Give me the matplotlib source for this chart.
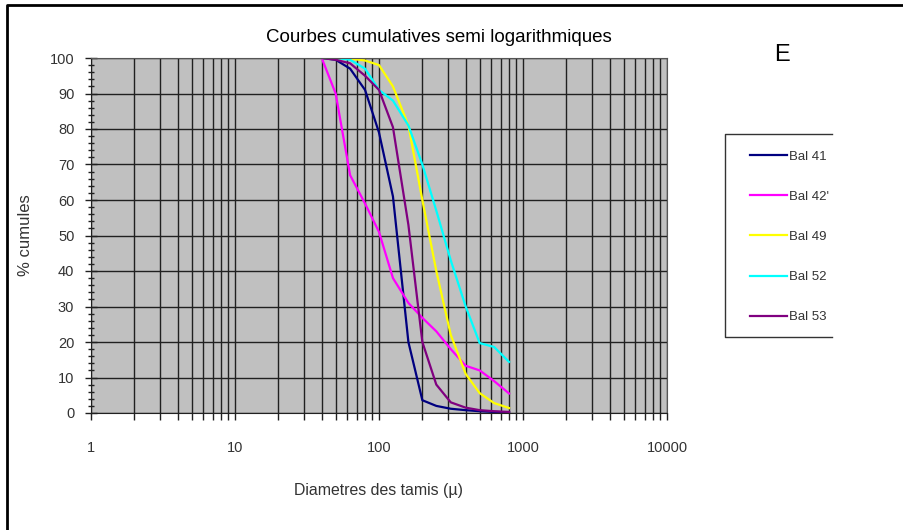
import matplotlib.pyplot as plt
from matplotlib.lines import Line2D
import numpy as np

plt.rcParams['font.family'] = ['Liberation Sans', 'DejaVu Sans']

# sieve openings (micrometres)
tamis = np.array([40, 50, 63, 80, 100, 125, 160, 200, 250, 315, 400, 500, 630, 800])

bal_41 = [100, 99.5, 97, 91, 79, 61, 20, 3.6, 2, 1.2, 0.8, 0.5, 0.3, 0.2]
bal_42 = [100, 90, 67, 59, 51, 38, 31, 26.8, 23, 18, 13.3, 12, 9, 5.5]
bal_49 = [100, 100, 99.8, 99.3, 98, 92, 81, 60, 40, 22, 11, 5.6, 2.8, 1.4]
bal_52 = [100, 100, 99.5, 97, 91, 88, 81, 70, 57, 43, 30, 19.7, 18.6, 14.4]
bal_53 = [100, 99.5, 98.5, 95, 91, 80.5, 53, 20, 8, 3, 1.5, 0.8, 0.5, 0.3]

noms = ["Bal 41", "Bal 42'", "Bal 49", "Bal 52", "Bal 53"]
couleurs = ["#000080", "#FF00FF", "#FFFF00", "#00FFFF", "#800080"]

fig = plt.figure(figsize=(9.04, 5.30), dpi=100)
ax = fig.add_axes([91/904, 1-413/530, (667-91)/904, (413-58)/530])
ax.set_facecolor("#C0C0C0")

for y, nom, c in zip([bal_41, bal_42, bal_49, bal_52, bal_53], noms, couleurs):
    ax.plot(tamis, y, color=c, lw=1.6, label=nom)

ax.set_xscale("log")
ax.set_xlim(1, 10000)
ax.set_ylim(0, 100)
ax.set_yticks(np.arange(0, 101, 10))
ax.set_yticks(np.arange(0, 101, 2), minor=True)
ax.set_xticks([1, 10, 100, 1000, 10000])
ax.set_xticklabels(["1", "10", "100", "1000", "10000"])

ax.grid(True, which="major", axis="both", color="#202020", lw=1)
ax.grid(True, which="minor", axis="x", color="#202020", lw=1)
ax.set_axisbelow(True)

ax.tick_params(axis="x", which="both", direction="out", length=5, width=1,
               color="#202020", pad=15, labelsize=10.5, labelcolor="#333333")
ax.tick_params(axis="y", which="major", direction="inout", length=8, width=1,
               color="#202020", pad=8, labelsize=10.5, labelcolor="#333333")
ax.tick_params(axis="y", which="minor", direction="inout", length=5, width=1,
               color="#202020")
for s in ax.spines.values():
    s.set_color("#555555")
ax.spines["left"].set_color("#202020")
ax.spines["bottom"].set_color("#202020")

ax.set_xlabel("Diametres des tamis (µ)", fontsize=11.4, color="#333333", labelpad=20)
ax.set_ylabel("% cumules", fontsize=12, color="#333333", labelpad=12)
fig.text(439/904, 1-37/530, "Courbes cumulatives semi logarithmiques",
         fontsize=13.5, ha="center", va="center")

fig.text(782/904, 1-55/530, "E", fontsize=17, ha="center", va="center")

leg = fig.legend(loc="upper left", bbox_to_anchor=(745/904, 1-145/530),
                 frameon=False, fontsize=9.5, handlelength=2.8, handletextpad=0.15,
                 labelspacing=2.12, borderaxespad=0)
for t in leg.get_texts():
    t.set_color("#333333")

# legend box open on the right side, figure border on top and left
fig.add_artist(Line2D([832/904, 725/904, 725/904, 832/904],
                      [1-134/530, 1-134/530, 1-337/530, 1-337/530],
                      color="#333333", lw=1, transform=fig.transFigure))
fig.add_artist(Line2D([7/904, 7/904, 1], [0, 1-5/530, 1-5/530],
                      color="black", lw=2, transform=fig.transFigure))

fig.savefig("out.png", dpi=100)
